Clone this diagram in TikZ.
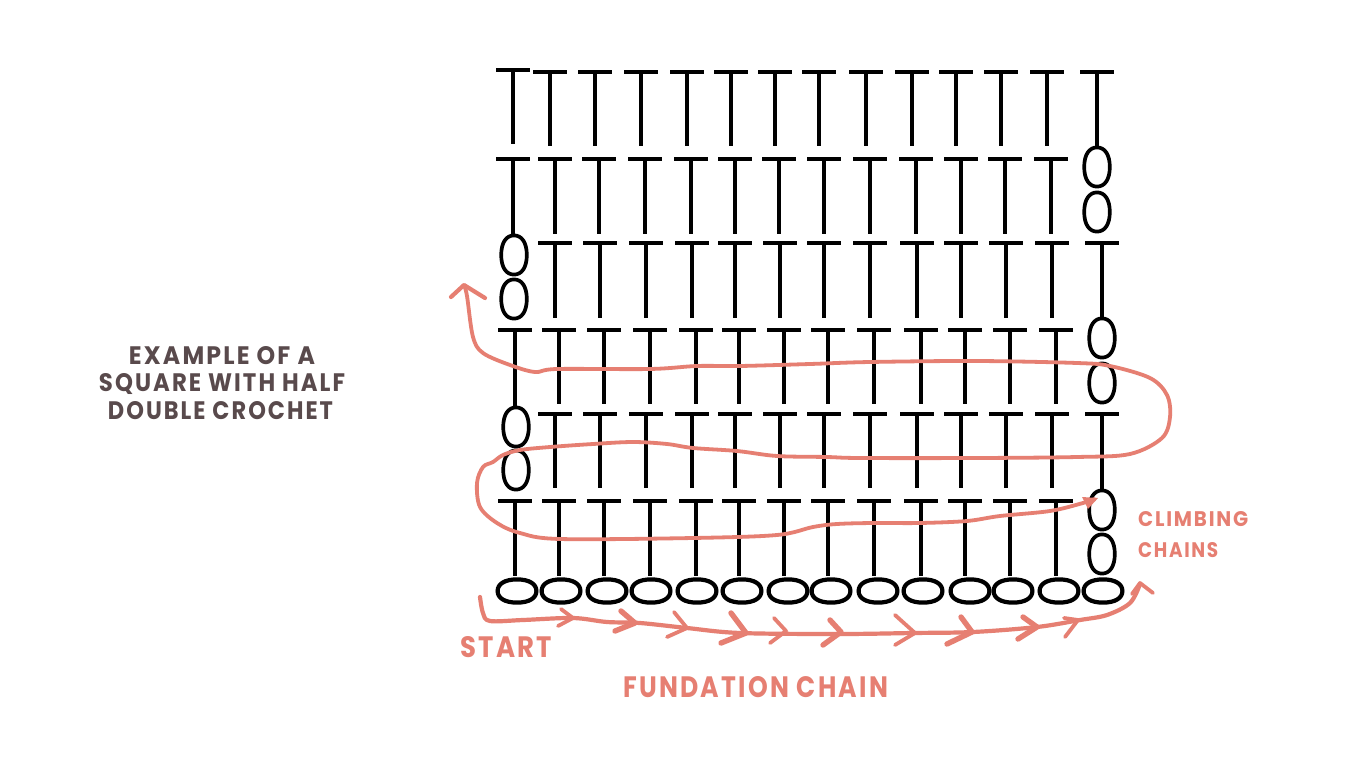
\documentclass[tikz,border=0pt]{standalone}
\usepackage{fontspec}
\setmainfont[LetterSpace=9]{Poppins}
\definecolor{salmon}{HTML}{E67F72}
\definecolor{inkbrown}{HTML}{594A4C}
\newcommand\trow[3]{\foreach \xx in {#3}{\draw[tee] (\xx-17,#1) -- (\xx+17,#1) (\xx,#1) -- (\xx,#2);}}
\newcommand\supov[5]{\draw[#5] (#1,#2-#4)
  .. controls (#1+.62*#3,#2-#4) and (#1+#3,#2-.62*#4) .. (#1+#3,#2)
  .. controls (#1+#3,#2+.62*#4) and (#1+.62*#3,#2+#4) .. (#1,#2+#4)
  .. controls (#1-.62*#3,#2+#4) and (#1-#3,#2+.62*#4) .. (#1-#3,#2)
  .. controls (#1-#3,#2-.62*#4) and (#1-.62*#3,#2-#4) .. cycle;}
\newcommand\voval[2]{\supov{#1}{#2}{12.8}{19.6}{ovalv}}
\newcommand\chev[3]{\draw[chevron] (#2) -- (#1) -- (#3);}
\newcommand\chevb[3]{\draw[chevron,line width=5.4] (#2) -- (#1) -- (#3);}
\newcommand\lbl[3]{\resizebox{#1pt}{#2pt}{\bfseries #3}}
\tikzset{
  tee/.style={draw=black,line width=4.1},
  ovalv/.style={draw=black,line width=3.7},
  ovalh/.style={draw=black,line width=4.2},
  trail/.style={draw=salmon,line width=3.8,line cap=round,line join=round},
  chevron/.style={draw=salmon,line width=3.8,line cap=round,line join=round},
  lab/.style={inner sep=0,anchor=west,text=salmon},
  note/.style={inner sep=0,text=inkbrown}
}
\begin{document}
\begin{tikzpicture}[x=1pt,y=-1pt]
\useasboundingbox (0,0) rectangle (1366,768);
\fill[white] (0,0) rectangle (1366,768);
% row 1
\trow{70}{144}{513}
\trow{72}{146}{550,595,641,687,731,775,819,866,912,956,1001,1047,1097}
% row 2
\trow{159}{234}{513,555,599,645,691,735,779,824,870,916,961,1005,1051}
\voval{1097}{167}\voval{1097}{212}
% row 3
\voval{514}{255}\voval{514}{299}
\trow{243}{318}{555,600,646,692,735,780,824,870,917,961,1006,1052,1102}
% row 4
\trow{330}{404}{559,604,650,696,739,784,828,874,921,965,1010,1056}
\trow{330}{407}{515}
\voval{1102}{338}\voval{1102}{383}
% row 5
\voval{516}{427}\voval{516}{470}
\trow{414}{488}{555,600,646,692,735,780,824,870,917,961,1006,1052}
\trow{414}{490}{1102}
% row 6
\trow{501}{576}{515,559,604,650,696,739,784,828,874,921,965,1010,1056}
\voval{1102}{510}\voval{1102}{554}
% foundation chain
\foreach \xx in {517,561,607,651,697,742,788,831,878,923,970,1013,1059,1103}
  {\supov{\xx}{591}{19.4}{11.6}{ovalh}}
% boustrophedon trail
\draw[trail] plot[smooth,tension=0.55] coordinates {
 (464,285) (467,296) (473,337) (483,353) (510,365) (535,372) (557,369) (650,369) (697,366) (740,366)
 (810,364) (870,362) (977,361) (1077,363) (1110,366) (1150,378) (1167,395) (1170,417) (1162,438) (1130,454)
 (1077,457) (977,458) (860,458) (827,457) (777,456) (737,451) (693,448) (667,444) (633,442) (593,444) (550,447)
 (520,450) (503,455) (493,462) (483,467) (477,483) (480,507) (497,523) (520,533) (560,539) (693,538) (777,535)
 (813,527) (837,524) (873,523) (920,523) (967,521) (1000,516) (1050,511) (1083,503) (1095,499)};
\draw[trail,line width=4.2] (451,297) -- (464,285) -- (485,298);
\fill[salmon] (1098,498) -- (1082,497) -- (1088,509) -- cycle;
% foundation trail
\draw[trail,line width=4.2] plot[smooth,tension=0.55] coordinates {
 (480,597) (483,613) (490,621) (523,620) (573,618) (607,622) (640,623) (687,628) (740,633) (840,634) (913,633)
 (973,632) (1037,627) (1080,620) (1107,615) (1130,603) (1140,584)};
\draw[trail] (1132,594) -- (1140,583) -- (1153,593);
\chev{573,618}{561,609}{558,626}
\chevb{635,623}{621,611}{615,631}
\chev{687,628}{674,612}{667,637}
\chevb{746,633}{731,613}{721,643}
\chev{786,631}{774,618}{770,643}
\chevb{841,632}{830,620}{823,645}
\chev{915,633}{895,615}{895,645}
\chevb{972,632}{961,617}{947,644}
\chevb{1037,627}{1023,617}{1018,639}
\chev{1078,620}{1064,618}{1065,637}
% labels
\node[note] (n1) at (222,356) {\lbl{186}{18}{EXAMPLE OF A}};
\node[note] (n2) at (222,384) {\lbl{246}{18}{SQUARE WITH HALF}};
\node[note] (n3) at (220.5,411) {\lbl{225}{18}{DOUBLE CROCHET}};
\node[lab] (start) at (460,647) {\lbl{92}{21}{START}};
\node[lab] (fund) at (623,687) {\lbl{265}{21}{FUNDATION CHAIN}};
\node[lab] (climb) at (1138,519) {\lbl{110}{15}{CLIMBING}};
\node[lab] (chains) at (1138,550) {\lbl{80}{15}{CHAINS}};
\end{tikzpicture}
\end{document}
